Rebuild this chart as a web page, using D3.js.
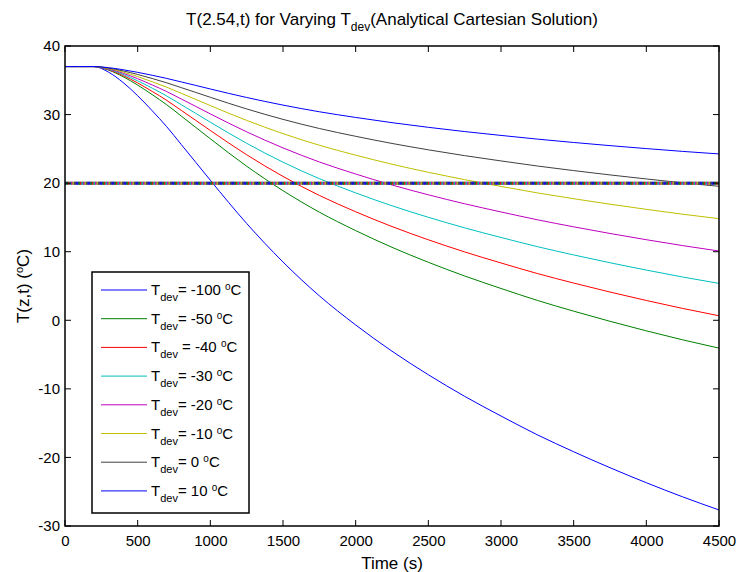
<!DOCTYPE html>
<html>
<head>
<meta charset="utf-8">
<script src="https://cdn.jsdelivr.net/npm/d3@7"></script>
<style>
    body { margin: 0; background: #fff; }
    text { font-family: "Liberation Sans", Arial, Helvetica, sans-serif; fill: #000; }
</style>
</head>
<body>
<div id="chart"></div>
<script>

// time samples (s)
let times = [0, 100, 200, 300, 400, 500, 600, 700, 800, 900, 1000, 1250, 1500, 1750,
    2000, 2250, 2500, 2750, 3000, 3250, 3500, 3750, 4000, 4250, 4500];

// T(2.54,t) for each T_dev
let tdevMinus100 = [37, 37, 37, 36.18, 34.67, 32.75, 30.56, 28.23, 25.63, 23.03, 20.42, 14.12, 8.50, 3.57,
    -0.68, -4.51, -7.94, -11.09, -13.96, -16.70, -19.17, -21.50, -23.69, -25.75, -27.66];
let tdevMinus50 = [37, 37, 37, 36.48, 35.52, 34.30, 32.91, 31.43, 29.78, 28.13, 26.47, 22.47, 18.90, 15.77,
    13.08, 10.64, 8.46, 6.46, 4.64, 2.90, 1.33, -0.15, -1.54, -2.85, -4.06];
let tdevMinus40 = [37, 37, 37, 36.54, 35.69, 34.61, 33.38, 32.07, 30.61, 29.15, 27.68, 24.14, 20.98, 18.21,
    15.83, 13.67, 11.74, 9.97, 8.36, 6.82, 5.43, 4.12, 2.89, 1.73, 0.66];
let tdevMinus30 = [37, 37, 37, 36.60, 35.86, 34.92, 33.85, 32.71, 31.44, 30.17, 28.89, 25.81, 23.06, 20.65,
    18.58, 16.70, 15.02, 13.48, 12.08, 10.74, 9.53, 8.39, 7.32, 6.31, 5.38];
let tdevMinus20 = [37, 37, 37, 36.66, 36.03, 35.23, 34.32, 33.35, 32.27, 31.19, 30.10, 27.48, 25.14, 23.09,
    21.33, 19.73, 18.30, 16.99, 15.80, 14.66, 13.63, 12.66, 11.75, 10.89, 10.10];
let tdevMinus10 = [37, 37, 37, 36.72, 36.20, 35.54, 34.79, 33.99, 33.10, 32.21, 31.31, 29.15, 27.22, 25.53,
    24.08, 22.76, 21.58, 20.50, 19.52, 18.58, 17.73, 16.93, 16.18, 15.47, 14.82];
let tdevZero = [37, 37, 37, 36.78, 36.37, 35.85, 35.26, 34.63, 33.93, 33.23, 32.52, 30.82, 29.30, 27.97,
    26.83, 25.79, 24.86, 24.01, 23.24, 22.50, 21.83, 21.20, 20.61, 20.05, 19.54];
let tdevPlus10 = [37, 37, 37, 36.84, 36.54, 36.16, 35.73, 35.27, 34.76, 34.25, 33.73, 32.49, 31.38, 30.41,
    29.58, 28.82, 28.14, 27.52, 26.96, 26.42, 25.93, 25.47, 25.04, 24.63, 24.26];

// ambient line drawn by every run
let ambientTimes = [0, 4500];
let ambientTemp = [20, 20];

let tdevValues = ["-100", "-50", "-40", "-30", "-20", "-10", "0", "10"];
let legendGaps = ["", "", " ", "", "", "", "", ""];
let colors = ['#0000FF', '#008000', '#FF0000', '#00BFBF', '#BF00BF', '#BFBF00', '#404040', '#0000FF'];

let xTicks = [0, 500, 1000, 1500, 2000, 2500, 3000, 3500, 4000, 4500];
let yTicks = [-30, -20, -10, 0, 10, 20, 30, 40];

let allSeries = [tdevMinus100, tdevMinus50, tdevMinus40, tdevMinus30, tdevMinus20, tdevMinus10, tdevZero, tdevPlus10];

let margin = {top: 46, right: 18, bottom: 46, left: 65};
let width = 737 - margin.left - margin.right;
let height = 572 - margin.top - margin.bottom;

let svg = d3.select("#chart").append("svg")
    .attr("width", 737)
    .attr("height", 572);

let g = svg.append("g")
    .attr("transform", "translate(" + margin.left + "," + margin.top + ")");

let x = d3.scaleLinear().domain([0, 4500]).range([0, width]);
let y = d3.scaleLinear().domain([-30, 40]).range([height, 0]);

let line = d3.line()
    .curve(d3.curveMonotoneX)
    .x(d => x(d[0]))
    .y(d => y(d[1]));

// curves
allSeries.forEach((s, i) => {
    g.append("path")
        .datum(times.map((t, j) => [t, s[j]]))
        .attr("fill", "none")
        .attr("stroke", colors[i])
        .attr("stroke-width", 1)
        .attr("d", line);
});

// ambient line: all runs overlap, which gives the speckled band
let ambient = ambientTimes.map((t, j) => [t, ambientTemp[j]]);
g.append("path")
    .datum(ambient)
    .attr("fill", "none")
    .attr("stroke", "#6b665c")
    .attr("stroke-width", 3)
    .attr("d", line);
colors.forEach((c, i) => {
    g.append("path")
        .datum(ambient)
        .attr("fill", "none")
        .attr("stroke", c)
        .attr("stroke-width", 3)
        .attr("stroke-opacity", 0.8)
        .attr("stroke-dasharray", "1.5,10.5")
        .attr("stroke-dashoffset", -i * 1.5)
        .attr("d", line);
});

// axes, matlab style: ticks inside on all four sides
let fmt = d => String(d);
let xAxis = d3.axisBottom(x).tickValues(xTicks).tickFormat(fmt).tickSize(0).tickPadding(9);
let yAxis = d3.axisLeft(y).tickValues(yTicks).tickFormat(fmt).tickSize(0).tickPadding(5);

let gx = g.append("g")
    .attr("transform", "translate(0," + height + ")")
    .call(xAxis);
gx.select(".domain").remove();
gx.selectAll("text").style("font-size", "15px").attr("font-family", null);

let gy = g.append("g").call(yAxis);
gy.select(".domain").remove();
gy.selectAll("text").style("font-size", "15px").attr("font-family", null);

let tickLen = 6;
xTicks.forEach(t => {
    g.append("line").attr("x1", x(t)).attr("x2", x(t)).attr("y1", height).attr("y2", height - tickLen)
        .attr("stroke", "#000");
    g.append("line").attr("x1", x(t)).attr("x2", x(t)).attr("y1", 0).attr("y2", tickLen)
        .attr("stroke", "#000");
});
yTicks.forEach(t => {
    g.append("line").attr("x1", 0).attr("x2", tickLen).attr("y1", y(t)).attr("y2", y(t))
        .attr("stroke", "#000");
    g.append("line").attr("x1", width).attr("x2", width - tickLen).attr("y1", y(t)).attr("y2", y(t))
        .attr("stroke", "#000");
});

g.append("rect")
    .attr("width", width)
    .attr("height", height)
    .attr("fill", "none")
    .attr("stroke", "#000")
    .attr("stroke-width", 1.5);

// title
let title = svg.append("text")
    .attr("x", margin.left + width / 2)
    .attr("y", 25)
    .attr("text-anchor", "middle")
    .style("font-size", "17px");
title.append("tspan").text("T(2.54,t) for Varying T");
title.append("tspan").attr("dy", 6).style("font-size", "12px").text("dev");
title.append("tspan").attr("dy", -6).text("(Analytical Cartesian Solution)");

// axis labels
svg.append("text")
    .attr("x", margin.left + width / 2)
    .attr("y", 569)
    .attr("text-anchor", "middle")
    .style("font-size", "17px")
    .text("Time (s)");

let ylab = svg.append("text")
    .attr("transform", "translate(29," + (margin.top + height / 2) + ") rotate(-90)")
    .attr("text-anchor", "middle")
    .style("font-size", "17px");
ylab.append("tspan").text("T(z,t) (");
ylab.append("tspan").attr("dy", -6).style("font-size", "11px").text("o");
ylab.append("tspan").attr("dy", 6).text("C)");

// legend
let legend = svg.append("g").attr("transform", "translate(92,272)");
legend.append("rect")
    .attr("width", 157)
    .attr("height", 241)
    .attr("fill", "#fff")
    .attr("stroke", "#000")
    .attr("stroke-width", 1.5);

tdevValues.forEach((v, i) => {
    let ly = 18 + i * 28.7;
    legend.append("line")
        .attr("x1", 9).attr("x2", 55)
        .attr("y1", ly).attr("y2", ly)
        .attr("stroke", colors[i]);
    let txt = legend.append("text")
        .attr("x", 59)
        .attr("y", ly + 5)
        .style("font-size", "15px");
    txt.append("tspan").text("T");
    txt.append("tspan").attr("dy", 6).style("font-size", "11px").text("dev");
    txt.append("tspan").attr("dy", -6).text(legendGaps[i] + "= " + v + " ");
    txt.append("tspan").attr("dy", -5).style("font-size", "10px").text("o");
    txt.append("tspan").attr("dy", 5).text("C");
});

</script>
</body>
</html>
